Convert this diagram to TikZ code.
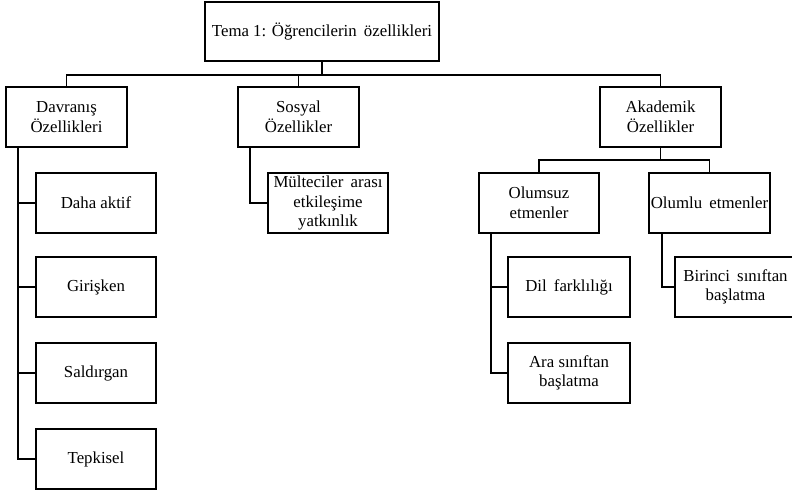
\documentclass[tikz,border=0pt]{standalone}
\usepackage{fontspec}
\setmainfont{Liberation Serif}
\newcommand{\wsp}{\ \hspace{3pt}}
\begin{document}
\begin{tikzpicture}[x=1pt,y=-1pt,
  box/.style={draw, line width=1.5pt, rectangle, inner sep=0pt, minimum width=121pt, minimum height=60pt, align=center, font=\fontsize{16.8}{19.5}\selectfont},
  link/.style={line width=1.5pt}]
\useasboundingbox (0,0) rectangle (792,492);
% boxes
\node[box, minimum width=234pt, minimum height=59pt] (top) at (322,31.5) {Tema 1: Öğrencilerin\wsp özellikleri};
\node[box] (dav) at (66.5,117) {Davranış\\Özellikleri};
\node[box] (sos) at (298.5,117) {Sosyal\\Özellikler};
\node[box] (aka) at (660.5,117) {Akademik\\Özellikler};
\node[box, minimum width=120pt] (aktif) at (96,203) {Daha aktif};
\node[box, minimum width=120pt] (giris) at (96,287) {Girişken};
\node[box, minimum width=120pt] (sald) at (96,373) {Saldırgan};
\node[box, minimum width=120pt] (tepk) at (96,459) {Tepkisel};
\node[box, minimum width=120pt] (mult) at (328,203) {Mülteciler\wsp arası\\etkileşime\\yatkınlık};
\node[box, minimum width=120pt] (olumsuz) at (539,203) {Olumsuz\\etmenler};
\node[box] (olumlu) at (709.5,203) {Olumlu\wsp etmenler};
\node[box, minimum width=122pt] (dil) at (569,287) {Dil\wsp farklılığı};
\node[box, minimum width=122pt] (ara) at (569,373) {Ara sınıftan\\başlatma};
\node[box] (bir) at (735.5,287) {Birinci\wsp sınıftan\\başlatma};
% connectors
\coordinate (bus1) at (322,75);
\draw[link] (top.south) -- (bus1);
\draw[link] (dav.north) |- (bus1) -| (aka.north);
\draw[link] (sos.north) -- (sos.north |- bus1);
\coordinate (dvt) at (18,147);
\draw[link] (dvt) |- (tepk.west);
\draw[link] (dvt |- aktif.west) -- (aktif.west);
\draw[link] (dvt |- giris.west) -- (giris.west);
\draw[link] (dvt |- sald.west) -- (sald.west);
\coordinate (svt) at (250,147);
\draw[link] (svt) |- (mult.west);
\coordinate (bus2) at (660.5,160);
\draw[link] (aka.south) -- (bus2);
\draw[link] (olumsuz.north) |- (bus2) -| (olumlu.north);
\coordinate (ovt) at (491,233);
\draw[link] (ovt) |- (ara.west);
\draw[link] (ovt |- dil.west) -- (dil.west);
\coordinate (lvt) at (662,233);
\draw[link] (lvt) |- (bir.west);
\end{tikzpicture}
\end{document}
